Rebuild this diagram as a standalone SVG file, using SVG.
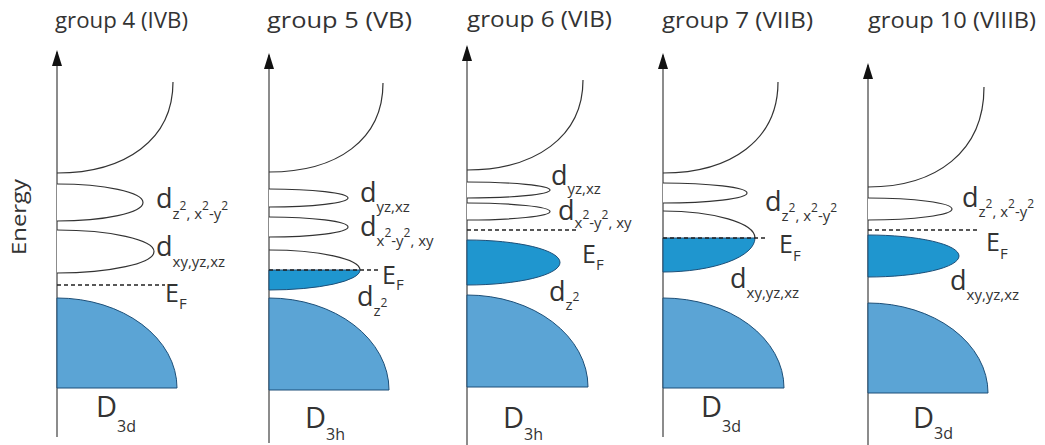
<svg xmlns="http://www.w3.org/2000/svg" width="1045" height="445" viewBox="0 0 1045 445">
<defs>
<marker id="arr" viewBox="0 0 16 10" refX="14" refY="5" markerWidth="16" markerHeight="10" markerUnits="userSpaceOnUse" orient="auto">
<path d="M0,0 L16,5 L0,10 Z" fill="#111"/>
</marker>
<style>
.ax{stroke:#666;stroke-width:1.5;fill:none}
.cv{stroke:#333;stroke-width:1.2;fill:none}
.lv{stroke:#333;stroke-width:1.2;fill:#fff}
.vb{fill:#5ba4d5;stroke:#1d4f78;stroke-width:1}
.fd{fill:#1f96cf;stroke:#1d4f78;stroke-width:1}
.ef{stroke:#222;stroke-width:1.6;stroke-dasharray:4 3;fill:none}
text{font-family:"Open Sans","Liberation Sans",sans-serif;fill:#333}
.t{font-size:21px}
.d{font-size:27px}
.e{font-size:25px}
.D{font-size:29px}
.sb{font-size:15px}
.sp{font-size:12px}
.s2{font-size:16px}
</style>
</defs>
<text x="0" y="0" transform="translate(26,217) rotate(-90)" text-anchor="middle" style="font-size:20px" textLength="76" lengthAdjust="spacingAndGlyphs">Energy</text>
<g id="connectors">
<line class="ax" x1="57" y1="437" x2="57" y2="52" marker-end="url(#arr)"/>
<line class="ax" x1="269" y1="443" x2="269" y2="55" marker-end="url(#arr)"/>
<line class="ax" x1="467" y1="445" x2="467" y2="47" marker-end="url(#arr)"/>
<line class="ax" x1="663" y1="437" x2="663" y2="55" marker-end="url(#arr)"/>
<line class="ax" x1="868" y1="445" x2="868" y2="65" marker-end="url(#arr)"/>
</g>
<g id="panel1">
<text class="t" x="55" y="28" textLength="133" lengthAdjust="spacingAndGlyphs">group 4 (IVB)</text>
<path class="cv" d="M57,173 C125,173 173,140 173,82"/>
<path class="lv" d="M57,184 A86,18.5 0 0 1 143,202.5 A86,18.5 0 0 1 57,221"/>
<path class="lv" d="M57,230 A97,21.5 0 0 1 154,251.5 A97,21.5 0 0 1 57,273"/>
<path class="vb" d="M57,388 L57,298 A120,90 0 0 1 177,388 Z"/>
<line class="ef" x1="57" y1="285" x2="165" y2="285"/>
<text class="d" x="156" y="208">d<tspan class="sb" dy="11">z</tspan><tspan class="sp" dy="-9">2</tspan><tspan class="sb" dy="9">, x</tspan><tspan class="sp" dy="-9">2</tspan><tspan class="sb" dy="9">-y</tspan><tspan class="sp" dy="-9">2</tspan></text>
<text class="d" x="156" y="256">d<tspan class="sb" dy="11">xy,yz,xz</tspan></text>
<text class="e" x="165" y="302">E<tspan class="sb" dy="7">F</tspan></text>
<text class="D" x="96" y="417">D<tspan class="s2" dy="15">3d</tspan></text>
</g>
<g id="panel2">
<text class="t" x="267" y="28" textLength="145" lengthAdjust="spacingAndGlyphs">group 5 (VB)</text>
<path class="cv" d="M269,172 C337,172 383,140 383,83"/>
<path class="lv" d="M269,189 A79,9 0 0 1 348,198 A79,9 0 0 1 269,207"/>
<path class="lv" d="M269,217 A79,10 0 0 1 348,227 A79,10 0 0 1 269,237"/>
<path class="lv" d="M269,250 A91,20 0 0 1 360,270"/>
<path class="fd" d="M269,270 L360,270 A91,20 0 0 1 269,290 Z"/>
<path class="vb" d="M269,390 L269,298 A120,92 0 0 1 389,390 Z"/>
<line class="ef" x1="269" y1="270" x2="378" y2="270"/>
<text class="d" x="360" y="202">d<tspan class="sb" dy="10">yz,xz</tspan></text>
<text class="d" x="360" y="236">d<tspan class="sb" dy="10">x</tspan><tspan class="sp" dy="-9">2</tspan><tspan class="sb" dy="9">-y</tspan><tspan class="sp" dy="-9">2</tspan><tspan class="sb" dy="9">, xy</tspan></text>
<text class="e" x="382" y="284">E<tspan class="sb" dy="6">F</tspan></text>
<text class="d" x="357" y="306">d<tspan class="sb" dy="10">z</tspan><tspan class="sp" dy="-9">2</tspan></text>
<text class="D" x="305" y="428">D<tspan class="s2" dy="12">3h</tspan></text>
</g>
<g id="panel3">
<text class="t" x="467" y="27" textLength="145" lengthAdjust="spacingAndGlyphs">group 6 (VIB)</text>
<path class="cv" d="M467,170 C535,170 583,137 583,80"/>
<path class="lv" d="M467,182 A83,8 0 0 1 550,190 A83,8 0 0 1 467,198"/>
<path class="lv" d="M467,203 A83,8.5 0 0 1 550,211.5 A83,8.5 0 0 1 467,220"/>
<path class="fd" d="M467,240 A93,22.5 0 0 1 560,262.5 A93,22.5 0 0 1 467,285 Z"/>
<path class="vb" d="M467,387 L467,295 A121,92 0 0 1 588,387 Z"/>
<line class="ef" x1="467" y1="230" x2="578" y2="230"/>
<text class="d" x="551" y="185">d<tspan class="sb" dy="9">yz,xz</tspan></text>
<text class="d" x="558" y="220">d<tspan class="sb" dy="8">x</tspan><tspan class="sp" dy="-9">2</tspan><tspan class="sb" dy="9">-y</tspan><tspan class="sp" dy="-9">2</tspan><tspan class="sb" dy="9">, xy</tspan></text>
<text class="e" x="582" y="263">E<tspan class="sb" dy="7">F</tspan></text>
<text class="d" x="549" y="301">d<tspan class="sb" dy="9">z</tspan><tspan class="sp" dy="-9">2</tspan></text>
<text class="D" x="503" y="428">D<tspan class="s2" dy="12">3h</tspan></text>
</g>
<g id="panel4">
<text class="t" x="662" y="28" textLength="151" lengthAdjust="spacingAndGlyphs">group 7 (VIIB)</text>
<path class="cv" d="M663,173 C731,173 778,140 778,82"/>
<path class="lv" d="M663,183 A84,10 0 0 1 747,193 A84,10 0 0 1 663,203"/>
<path class="lv" d="M663,211 A92,27 0 0 1 755,238"/>
<path class="fd" d="M663,238 L755,238 A92,34 0 0 1 663,272 Z"/>
<path class="vb" d="M663,388 L663,298 A121,90 0 0 1 784,388 Z"/>
<line class="ef" x1="663" y1="238" x2="767" y2="238"/>
<text class="d" x="765" y="211">d<tspan class="sb" dy="10">z</tspan><tspan class="sp" dy="-9">2</tspan><tspan class="sb" dy="9">, x</tspan><tspan class="sp" dy="-9">2</tspan><tspan class="sb" dy="9">-y</tspan><tspan class="sp" dy="-9">2</tspan></text>
<text class="e" x="779" y="253">E<tspan class="sb" dy="8">F</tspan></text>
<text class="d" x="730" y="288">d<tspan class="sb" dy="10">xy,yz,xz</tspan></text>
<text class="D" x="701" y="417">D<tspan class="s2" dy="15">3d</tspan></text>
</g>
<g id="panel5">
<text class="t" x="868" y="28" textLength="168" lengthAdjust="spacingAndGlyphs">group 10 (VIIIB)</text>
<path class="cv" d="M868,187 C936,187 984,152 984,87"/>
<path class="lv" d="M868,198 A84,11 0 0 1 952,209 A84,11 0 0 1 868,220"/>
<path class="fd" d="M868,235 A91,21 0 0 1 959,256 A91,21 0 0 1 868,277 Z"/>
<path class="vb" d="M868,393 L868,303 A120,90 0 0 1 988,393 Z"/>
<line class="ef" x1="868" y1="230" x2="977" y2="230"/>
<text class="d" x="962" y="207">d<tspan class="sb" dy="10">z</tspan><tspan class="sp" dy="-9">2</tspan><tspan class="sb" dy="9">, x</tspan><tspan class="sp" dy="-9">2</tspan><tspan class="sb" dy="9">-y</tspan><tspan class="sp" dy="-9">2</tspan></text>
<text class="e" x="986" y="251">E<tspan class="sb" dy="8">F</tspan></text>
<text class="d" x="950" y="290">d<tspan class="sb" dy="10">xy,yz,xz</tspan></text>
<text class="D" x="913" y="428">D<tspan class="s2" dy="11">3d</tspan></text>
</g>
</svg>
